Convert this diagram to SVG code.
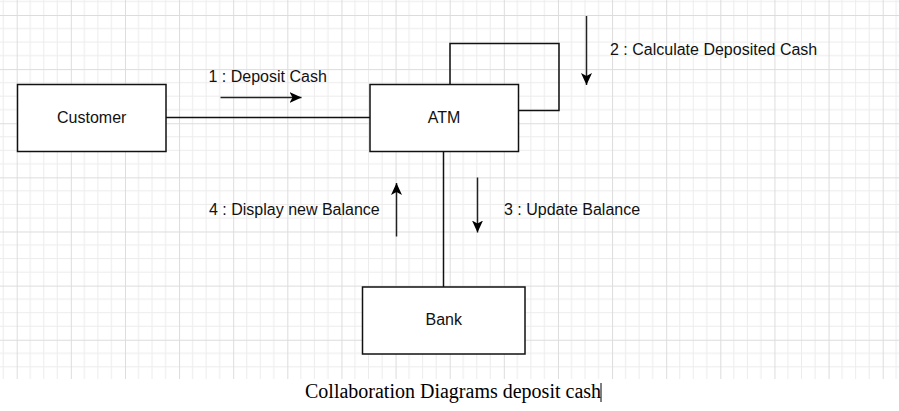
<svg xmlns="http://www.w3.org/2000/svg" width="899" height="411" viewBox="0 0 899 411">
  <defs>
    <pattern id="grid" patternUnits="userSpaceOnUse" x="16.7" y="15" width="54.125" height="54.125">
      <path d="M13.53,0V54.125M27.06,0V54.125M40.6,0V54.125M0,13.53H54.125M0,27.06H54.125M0,40.6H54.125" stroke="#ececec" stroke-width="1" fill="none"/>
      <path d="M0.5,0V54.125M0,0.5H54.125" stroke="#dcdcdc" stroke-width="1" fill="none"/>
    </pattern>
    <marker id="arrow" markerUnits="userSpaceOnUse" markerWidth="14" markerHeight="14" viewBox="0 0 14 12" refX="12" refY="6" orient="auto">
      <path d="M0,0.5 L12,6 L0,11.5 L3,6 Z" fill="#000"/>
    </marker>
    <style>
      .box { fill: #fff; stroke: #111; stroke-width: 1.5; }
      .lbl { font-family: "Liberation Sans", Arial, sans-serif; font-size: 16px; fill: #111; }
      .mid { text-anchor: middle; }
      .conn { fill: none; stroke: #111; stroke-width: 1.5; }
      .msg { fill: none; stroke: #222; stroke-width: 1.5; marker-end: url(#arrow); }
      .cap { font-family: "Liberation Serif", "Times New Roman", serif; font-size: 20px; fill: #000; }
    </style>
  </defs>
  <rect x="0" y="0" width="899" height="411" fill="#fff"/>
  <rect x="0" y="0" width="899" height="379" fill="url(#grid)"/>

  <g id="connectors">
    <line class="conn" x1="166" y1="117.5" x2="370" y2="117.5"/>
    <polyline class="conn" points="450,84 450,43.5 559,43.5 559,110.5 518,110.5"/>
    <line class="conn" x1="443.5" y1="152" x2="443.5" y2="287"/>
  </g>

  <g id="messages">
    <g id="msg1">
      <line class="msg" x1="220.5" y1="97.5" x2="301.5" y2="97.5"/>
      <text class="lbl" x="208.5" y="82">1 : Deposit Cash</text>
    </g>
    <g id="msg2">
      <line class="msg" x1="586.5" y1="16" x2="586.5" y2="85"/>
      <text class="lbl" x="610" y="55">2 : Calculate Deposited Cash</text>
    </g>
    <g id="msg3">
      <line class="msg" x1="477.5" y1="177.5" x2="477.5" y2="232.5"/>
      <text class="lbl" x="504" y="215">3 : Update Balance</text>
    </g>
    <g id="msg4">
      <line class="msg" x1="396.5" y1="236.5" x2="396.5" y2="183"/>
      <text class="lbl" x="209" y="215">4 : Display new Balance</text>
    </g>
  </g>

  <g id="customer">
    <rect class="box" x="17.5" y="84.5" width="148.5" height="67"/>
    <text class="lbl mid" x="91.7" y="123">Customer</text>
  </g>
  <g id="atm">
    <rect class="box" x="370" y="84.5" width="148.5" height="67"/>
    <text class="lbl mid" x="444" y="123">ATM</text>
  </g>
  <g id="bank">
    <rect class="box" x="362.5" y="287" width="162.5" height="67"/>
    <text class="lbl mid" x="443.7" y="325">Bank</text>
  </g>

  <g id="caption">
    <text class="cap" x="305" y="398">Collaboration Diagrams deposit cash</text>
    <line x1="601" y1="383" x2="601" y2="402" stroke="#000" stroke-width="1"/>
  </g>
</svg>
